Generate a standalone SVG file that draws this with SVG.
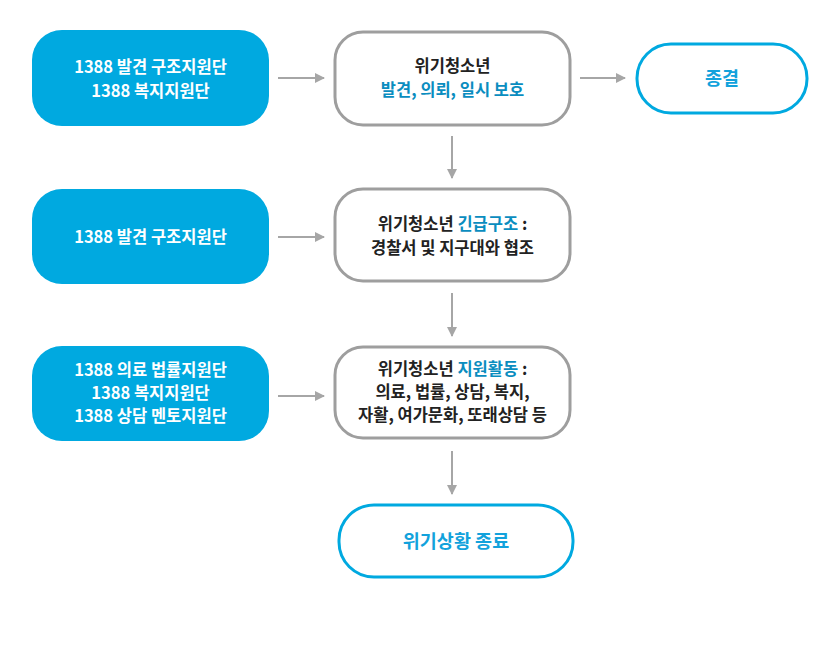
<svg xmlns="http://www.w3.org/2000/svg" width="840" height="646" viewBox="0 0 840 646">
<defs>
<style>
text{font-family:"Noto Sans CJK KR","Noto Sans",sans-serif;font-weight:700;font-size:16.5px;text-anchor:middle}
.src rect{fill:#00a9e0}
.src text{fill:#fff}
.mid rect{fill:#fff;stroke:#9e9e9e;stroke-width:3}
.mid text{fill:#222}
.mid .hl{fill:#0a8dbf}
.end rect{fill:#fff;stroke:#00a9e0;stroke-width:3}
.end text{fill:#12a2dc;font-size:18.5px}
.conn line{stroke:#a6a6a6;stroke-width:2}
</style>
<marker id="ah" viewBox="0 0 10 10" refX="9" refY="5" markerWidth="10" markerHeight="10" markerUnits="userSpaceOnUse" orient="auto">
<path d="M0,0 L10,5 L0,10 z" fill="#a6a6a6"/>
</marker>
</defs>
<rect width="840" height="646" fill="#fff"/>
<g id="s1" class="src"><rect x="32" y="30" width="237" height="96" rx="30"/>
<text x="150.5" y="73">1388 발견 구조지원단</text><text x="150.5" y="97">1388 복지지원단</text></g>
<g id="s2" class="src"><rect x="32" y="189" width="237" height="95" rx="30"/>
<text x="150.5" y="243">1388 발견 구조지원단</text></g>
<g id="s3" class="src"><rect x="32" y="346" width="237" height="95" rx="30"/>
<text x="150.5" y="376">1388 의료 법률지원단</text><text x="150.5" y="399">1388 복지지원단</text><text x="150.5" y="422">1388 상담 멘토지원단</text></g>
<g id="m1" class="mid"><rect x="335" y="32" width="235" height="93" rx="28"/>
<text x="452.5" y="72">위기청소년</text><text x="452.5" y="96" class="hl">발견, 의뢰, 일시 보호</text></g>
<g id="m2" class="mid"><rect x="335" y="189" width="235" height="92" rx="28"/>
<text x="452.5" y="230">위기청소년 <tspan class="hl">긴급구조</tspan> :</text><text x="452.5" y="254">경찰서 및 지구대와 협조</text></g>
<g id="m3" class="mid"><rect x="335" y="347" width="235" height="91" rx="28"/>
<text x="452.5" y="375">위기청소년 <tspan class="hl">지원활동</tspan> :</text><text x="452.5" y="398">의료, 법률, 상담, 복지,</text><text x="452.5" y="421">자활, 여가문화, 또래상담 등</text></g>
<g id="e1" class="end"><rect x="637" y="44" width="170" height="69" rx="34"/>
<text x="722" y="85">종결</text></g>
<g id="e2" class="end"><rect x="339" y="505" width="234" height="72" rx="35"/>
<text x="456" y="548">위기상황 종료</text></g>
<g id="connectors" class="conn">
<line x1="278" y1="78" x2="324" y2="78" marker-end="url(#ah)"/>
<line x1="580" y1="78" x2="625" y2="78" marker-end="url(#ah)"/>
<line x1="278" y1="237" x2="324" y2="237" marker-end="url(#ah)"/>
<line x1="278" y1="396" x2="324" y2="396" marker-end="url(#ah)"/>
<line x1="452" y1="136" x2="452" y2="178" marker-end="url(#ah)"/>
<line x1="452" y1="293" x2="452" y2="336" marker-end="url(#ah)"/>
<line x1="452" y1="451" x2="452" y2="494" marker-end="url(#ah)"/>
</g>
</svg>
